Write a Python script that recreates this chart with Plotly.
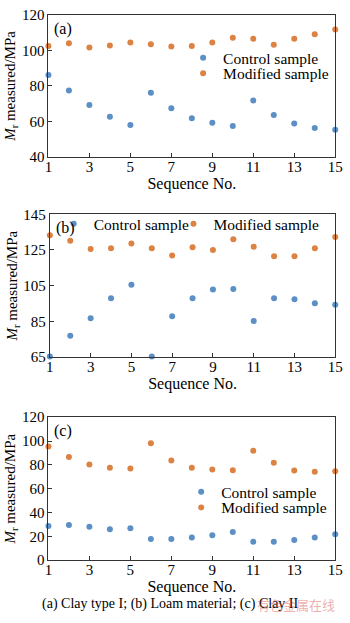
import plotly.graph_objects as go

seq = list(range(1, 16))

a_control = [86.2, 77.5, 69.3, 62.7, 58.0, 76.2, 67.5, 61.8, 59.3, 57.5, 71.8, 63.6, 58.9, 56.4, 55.3]
a_modified = [102.4, 104.0, 101.6, 102.7, 104.5, 103.5, 102.2, 102.5, 104.5, 107.1, 106.5, 103.1, 106.5, 109.1, 111.8]

b_control = [65.4, 77.0, 86.8, 97.9, 105.5, 65.4, 87.9, 97.9, 102.8, 103.2, 85.2, 97.9, 97.4, 95.2, 94.3]
b_modified = [133.2, 130.1, 125.5, 125.9, 128.6, 125.9, 121.9, 126.5, 125.0, 131.0, 126.8, 121.5, 121.5, 125.9, 132.3]

c_control = [28.6, 29.5, 28.1, 25.9, 26.7, 17.7, 17.7, 19.1, 21.0, 23.7, 15.5, 15.5, 16.9, 19.1, 21.8]
c_modified = [95.5, 86.5, 80.2, 77.5, 76.9, 98.2, 83.7, 77.5, 76.1, 75.5, 91.9, 81.8, 75.3, 74.2, 74.7]

panel_labels = ["(a)", "(b)", "(c)"]
y_ranges = [[40, 120], [65, 145], [0, 120]]
y_ticks = [[40, 60, 80, 100, 120], [65, 85, 105, 125, 145], [0, 20, 40, 60, 80, 100, 120]]
x_ticks = [1, 3, 5, 7, 9, 11, 13, 15]
series_names = ["Control sample", "Modified sample"]
caption = "(a) Clay type I; (b) Loam material; (c) Clay II"
watermark = "有色金属在线"

BLUE = "#5b8fc5"
ORANGE = "#dc8242"
FONT = "Liberation Serif"
W, H = 350, 623

def px_x(p):
    return p / W

def px_y(p):
    return 1 - p / H

# pixel boxes of the plot areas: (left, right, top, bottom)
boxes = [(46, 343, 7, 153), (47.5, 343, 211.7, 358.3), (46, 343, 420, 566.7)]

# legend text start (px) and centre y (px) for each panel: control, modified
legend_pos = [[(230, 51.5), (230, 67.5)],
              [(96, 222), (220, 222)],
              [(228, 497), (228, 513)]]

data = [(a_control, a_modified), (b_control, b_modified), (c_control, c_modified)]

fig = go.Figure()
leg_n = 0
legend_layouts = {}
for i, (ctl, mod) in enumerate(data):
    k = "" if i == 0 else str(i + 1)
    for j, (vals, name, col) in enumerate([(ctl, series_names[0], BLUE), (mod, series_names[1], ORANGE)]):
        leg_n += 1
        leg = "legend" if leg_n == 1 else "legend" + str(leg_n)
        fig.add_trace(go.Scatter(
            x=seq, y=vals, mode="markers", name=name,
            marker=dict(color=col, size=6, symbol="circle"),
            xaxis="x" + k, yaxis="y" + k, legend=leg, cliponaxis=False,
        ))
        tx, ty = legend_pos[i][j]
        legend_layouts[leg] = dict(
            x=px_x(tx - 29), y=px_y(ty), xanchor="left", yanchor="middle",
            font=dict(size=15.5, family=FONT), bgcolor="rgba(0,0,0,0)",
            itemwidth=30, indentation=-15, borderwidth=0,
        )

layout = dict(
    width=W, height=H, margin=dict(l=0, r=0, t=0, b=0),
    paper_bgcolor="white", plot_bgcolor="white",
    font=dict(family=FONT, size=15, color="black"),
    showlegend=True,
)
layout.update(legend_layouts)
for i in range(3):
    l, r, t, b = boxes[i]
    k = "" if i == 0 else str(i + 1)
    layout["xaxis" + k] = dict(
        domain=[px_x(l), px_x(r)], range=[1, 15], anchor="y" + k,
        tickmode="array", tickvals=x_ticks, ticks="inside", ticklen=4,
        tickcolor="#333", showline=True, linecolor="#333", linewidth=1,
        mirror=True, showgrid=False, zeroline=False,
        tickfont=dict(size=15, family=FONT), ticklabeloverflow="allow",
        ticklabelstandoff=-4,
        title=dict(text="Sequence No.", font=dict(size=16, family=FONT), standoff=3),
    )
    layout["yaxis" + k] = dict(
        domain=[px_y(b), px_y(t)], range=y_ranges[i], anchor="x" + k,
        tickmode="array", tickvals=y_ticks[i], ticks="inside", ticklen=4,
        tickcolor="#333", showline=True, linecolor="#333", linewidth=1,
        mirror=True, showgrid=False, zeroline=False,
        tickfont=dict(size=15, family=FONT), ticklabeloverflow="allow",
        title=dict(text="<i>M</i><sub>r</sub> measured/MPa", font=dict(size=15, family=FONT), standoff=2),
    )

annotations = []
for i in range(3):
    l, r, t, b = boxes[i]
    annotations.append(dict(text=panel_labels[i], x=px_x(l + 4), y=px_y(t + 3),
                            xref="paper", yref="paper", xanchor="left", yanchor="top",
                            showarrow=False, font=dict(size=16, family=FONT)))
annotations.append(dict(text=caption, x=px_x(172), y=px_y(612), xref="paper", yref="paper",
                        xanchor="center", yanchor="middle", showarrow=False,
                        font=dict(size=14, family=FONT)))
annotations.append(dict(text=watermark, x=px_x(345), y=px_y(612), xref="paper", yref="paper",
                        xanchor="right", yanchor="middle", showarrow=False,
                        font=dict(size=13, family="Noto Sans CJK SC", color="rgba(215,70,70,0.45)")))
layout["annotations"] = annotations

fig.update_layout(**layout)
fig.write_html("out.html")
